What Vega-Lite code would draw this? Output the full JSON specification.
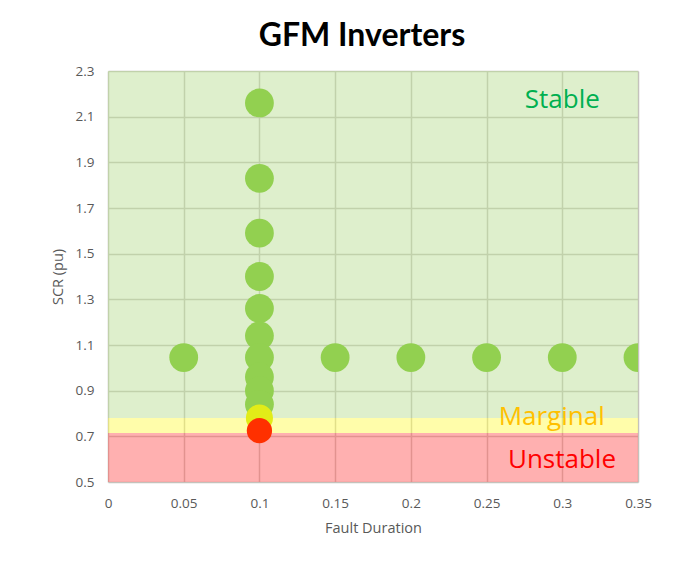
{
  "$schema": "https://vega.github.io/schema/vega-lite/v6.json",
  "autosize": "none",
  "width": 530,
  "height": 411,
  "padding": {"left": 108, "top": 71, "right": 45, "bottom": 81},
  "background": "white",
  "title": {"text": "GFM Inverters", "font": "Lato", "fontSize": 32, "fontWeight": "bold", "color": "#000000", "anchor": "middle", "offset": 11, "dx": -11},
  "config": {
    "view": {"stroke": null},
    "axis": {"labelFont": "Open Sans", "titleFont": "Open Sans", "labelColor": "#595959", "titleColor": "#595959", "labelFontSize": 13.5, "titleFontSize": 14.5, "titleFontWeight": "normal", "ticks": false, "domain": false, "gridColor": "#C4C2BC", "gridOpacity": 1, "gridWidth": 1.5}
  },
  "datasets": {
    "bands": [
      {"zone": "Stable", "x1": 0, "x2": 0.35, "lo": 0.78, "hi": 2.3},
      {"zone": "Marginal", "x1": 0, "x2": 0.35, "lo": 0.715, "hi": 0.78},
      {"zone": "Unstable", "x1": 0, "x2": 0.35, "lo": 0.5, "hi": 0.715}
    ],
    "points": [
      {"duration": 0.1, "scr": 2.16, "status": "Stable"},
      {"duration": 0.1, "scr": 1.83, "status": "Stable"},
      {"duration": 0.1, "scr": 1.59, "status": "Stable"},
      {"duration": 0.1, "scr": 1.40, "status": "Stable"},
      {"duration": 0.1, "scr": 1.26, "status": "Stable"},
      {"duration": 0.1, "scr": 1.14, "status": "Stable"},
      {"duration": 0.1, "scr": 1.045, "status": "Stable"},
      {"duration": 0.1, "scr": 0.96, "status": "Stable"},
      {"duration": 0.1, "scr": 0.90, "status": "Stable"},
      {"duration": 0.1, "scr": 0.84, "status": "Stable"},
      {"duration": 0.05, "scr": 1.045, "status": "Stable"},
      {"duration": 0.15, "scr": 1.045, "status": "Stable"},
      {"duration": 0.2, "scr": 1.045, "status": "Stable"},
      {"duration": 0.25, "scr": 1.045, "status": "Stable"},
      {"duration": 0.3, "scr": 1.045, "status": "Stable"},
      {"duration": 0.35, "scr": 1.045, "status": "Stable"},
      {"duration": 0.1, "scr": 0.78, "status": "Marginal"},
      {"duration": 0.1, "scr": 0.725, "status": "Unstable"}
    ],
    "labels": [
      {"zone": "Stable", "x": 0.3, "y": 2.173},
      {"zone": "Marginal", "x": 0.293, "y": 0.785},
      {"zone": "Unstable", "x": 0.2998, "y": 0.596}
    ]
  },
  "layer": [
    {
      "data": {"name": "bands"},
      "mark": {"type": "rect", "fillOpacity": 0.5},
      "encoding": {
        "x": {"field": "x1", "type": "quantitative", "scale": {"domain": [0, 0.35], "nice": false}, "axis": {"title": "Fault Duration", "values": [0, 0.05, 0.1, 0.15, 0.2, 0.25, 0.3, 0.35], "format": "~g", "labelPadding": 14, "titlePadding": 12, "labelFlush": false}},
        "x2": {"field": "x2"},
        "y": {"field": "lo", "type": "quantitative", "scale": {"domain": [0.5, 2.3], "nice": false}, "axis": {"title": "SCR (pu)", "values": [0.5, 0.7, 0.9, 1.1, 1.3, 1.5, 1.7, 1.9, 2.1, 2.3], "format": "~g", "labelPadding": 14, "titlePadding": 10, "labelFlush": false}},
        "y2": {"field": "hi"},
        "color": {"field": "zone", "type": "nominal", "scale": {"domain": ["Stable", "Marginal", "Unstable"], "range": ["#BDDF99", "#FFFB55", "#FF6161"]}, "legend": null}
      }
    },
    {
      "data": {"name": "points"},
      "mark": {"type": "circle", "opacity": 1, "clip": true},
      "encoding": {
        "x": {"field": "duration", "type": "quantitative"},
        "y": {"field": "scr", "type": "quantitative"},
        "color": {"field": "status", "type": "nominal", "scale": {"domain": ["Stable", "Marginal", "Unstable"], "range": ["#92D050", "#E2EC18", "#FF3000"]}, "legend": null},
        "size": {"field": "status", "type": "nominal", "scale": {"domain": ["Stable", "Marginal", "Unstable"], "range": [830, 640, 220]}, "legend": null},
        "order": {"field": "scr", "sort": "descending"}
      }
    },
    {
      "data": {"name": "labels"},
      "mark": {"type": "text", "font": "Open Sans", "fontSize": 26, "align": "center", "baseline": "middle"},
      "encoding": {
        "x": {"field": "x", "type": "quantitative"},
        "y": {"field": "y", "type": "quantitative"},
        "text": {"field": "zone"},
        "color": {"field": "zone", "type": "nominal", "scale": {"domain": ["Stable", "Marginal", "Unstable"], "range": ["#00B050", "#FFC000", "#FF0000"]}, "legend": null}
      }
    }
  ],
  "resolve": {"scale": {"color": "independent"}}
}
